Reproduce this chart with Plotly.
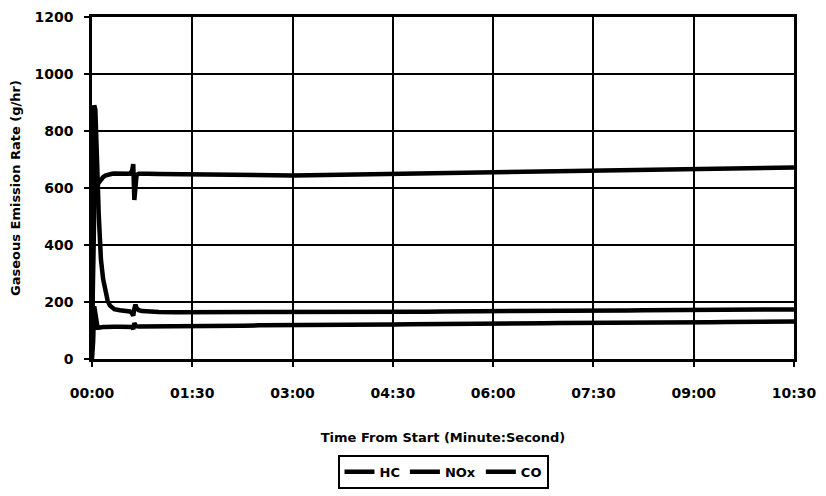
import plotly.graph_objects as go

# Time from start in seconds
t = [0, 1, 2, 3, 4, 5, 6, 7, 8, 10, 12, 14, 16, 18, 20, 25, 30, 34, 36, 37, 38, 39, 40, 42, 45, 50,
     60, 75, 90, 105, 120, 135, 150, 165, 180, 195, 210, 225, 240, 255, 270, 285, 300, 315, 330,
     345, 360, 375, 390, 405, 420, 435, 450, 465, 480, 495, 510, 525, 540, 555, 570, 585, 600, 615, 630]

hc = [0, 60, 185, 150, 118, 110, 110, 111, 112, 112, 112, 113, 112, 112, 113, 113, 114, 114, 112, 105, 126, 119, 115, 114, 114, 114,
      115, 115, 116, 116, 117, 117, 118, 118, 119, 119, 120, 120, 120, 121, 121, 122, 122, 122, 123,
      123, 124, 124, 125, 125, 126, 126, 126, 127, 127, 128, 128, 128, 129, 129, 130, 130, 131, 131, 132]

nox = [80, 350, 520, 590, 605, 612, 618, 624, 630, 638, 644, 647, 649, 650, 651, 652, 652, 650, 660, 684, 558, 600, 646, 650, 651, 650,
       649, 648, 647, 646, 645, 645, 644, 643, 644, 645, 646, 647, 648, 648, 649, 650, 651, 652, 652,
       653, 654, 655, 656, 657, 657, 658, 659, 660, 661, 661, 662, 663, 664, 665, 667, 668, 669, 670, 672]

co = [40, 880, 890, 875, 790, 640, 510, 413, 350, 280, 235, 205, 188, 180, 175, 171, 169, 167, 160, 152, 176, 191, 178, 171, 168, 166,
      165, 164, 164, 163, 163, 163, 163, 163, 164, 164, 164, 165, 165, 165, 166, 166, 166, 167, 167,
      167, 168, 168, 168, 169, 169, 169, 170, 170, 170, 171, 171, 171, 172, 172, 172, 173, 173, 173, 174]

tick_vals = [0, 90, 180, 270, 360, 450, 540, 630]
tick_text = ["00:00", "01:30", "03:00", "04:30", "06:00", "07:30", "09:00", "10:30"]
y_ticks = [0, 200, 400, 600, 800, 1000, 1200]

FONT = "DejaVu Sans"

fig = go.Figure()
for name, ys in [("HC", hc), ("NOx", nox), ("CO", co)]:
    fig.add_trace(go.Scatter(x=t, y=ys, mode="lines", name=name,
                             line=dict(color="black", width=4.5)))

fig.update_layout(
    width=826, height=496,
    margin=dict(l=84, r=40, t=9, b=145),
    paper_bgcolor="white", plot_bgcolor="white",
    font=dict(family=FONT, color="black", size=14),
    showlegend=True,
    legend=dict(orientation="h", x=0.5, xanchor="center", y=-0.33, yanchor="middle",
                bordercolor="black", borderwidth=2, bgcolor="white",
                font=dict(family=FONT, size=13, color="black", weight="bold"),
                itemwidth=30, tracegroupgap=0),
)
fig.update_xaxes(
    range=[0, 630], tickvals=tick_vals, ticktext=tick_text,
    automargin=False, ticklabeloverflow="allow",
    showgrid=True, gridcolor="black", gridwidth=1.5,
    showline=True, linecolor="black", linewidth=2.5, mirror=True,
    ticks="outside", ticklen=5, tickwidth=2, tickcolor="black",
    ticklabelstandoff=14,
    tickfont=dict(family=FONT, size=14, color="black", weight="bold"),
    zeroline=False,
    title=dict(text="Time From Start (Minute:Second)", standoff=34,
               font=dict(family=FONT, size=13, color="black", weight="bold")),
)
fig.update_yaxes(
    range=[0, 1200], tickvals=y_ticks,
    automargin=False, ticklabeloverflow="allow",
    showgrid=True, gridcolor="black", gridwidth=1.5,
    showline=True, linecolor="black", linewidth=2.5, mirror=True,
    ticks="outside", ticklen=5, tickwidth=2, tickcolor="black",
    ticklabelstandoff=8,
    tickfont=dict(family=FONT, size=14, color="black", weight="bold"),
    zeroline=False,
    title=dict(text="Gaseous Emission Rate (g/hr)", standoff=11,
               font=dict(family=FONT, size=13, color="black", weight="bold")),
)

fig.write_html("out.html")
